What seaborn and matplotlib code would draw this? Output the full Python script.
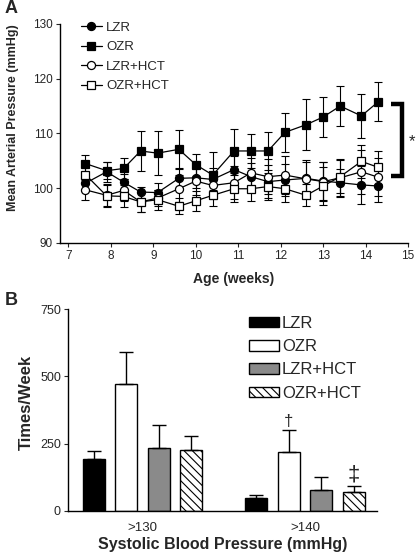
import pandas as pd
import matplotlib
matplotlib.use("Agg")
import matplotlib.pyplot as plt
from matplotlib.patches import Patch
import seaborn as sns

sns.set_theme(style="ticks")
plt.rcParams["font.family"] = ["Liberation Sans", "DejaVu Sans"]
plt.rcParams["hatch.linewidth"] = 0.8

# -------------------------------------------------------------
# Panel A data: mean arterial pressure (mmHg) vs age (weeks), mean +/- SE
weeks = [7.4, 7.9, 8.3, 8.7, 9.1, 9.6, 10.0, 10.4, 10.9, 11.3, 11.7, 12.1, 12.6, 13.0, 13.4, 13.9, 14.3]
lzr = [100.9, 103.0, 101.1, 99.3, 99.2, 101.8, 101.9, 101.6, 103.4, 102.1, 101.2, 101.5, 101.8, 101.3, 101.0, 100.6, 100.4]
ozr = [104.5, 103.2, 103.6, 106.8, 106.4, 107.1, 104.3, 102.4, 106.8, 106.8, 106.8, 110.2, 111.6, 113.0, 115.0, 113.2, 115.8]
lzr_hct = [99.7, 98.7, 99.6, 97.5, 98.2, 99.9, 101.3, 100.5, 101.0, 102.8, 102.1, 102.4, 101.7, 101.2, 101.9, 103.0, 102.0]
ozr_hct = [102.5, 98.6, 98.5, 97.5, 97.9, 96.7, 97.7, 98.7, 99.9, 99.9, 100.3, 99.9, 98.7, 100.4, 102.1, 104.9, 103.8]

lzr_se = [1.5, 1.8, 1.5, 1.0, 1.8, 1.8, 1.8, 2.0, 2.5, 2.5, 3.0, 3.0, 3.0, 3.5, 2.5, 3.5, 3.0]
ozr_se = [1.5, 1.6, 2.0, 3.7, 4.0, 3.6, 2.0, 4.2, 4.0, 3.1, 3.5, 3.6, 4.6, 3.6, 3.7, 4.0, 3.6]
lzr_hct_se = [1.8, 2.0, 2.0, 1.8, 1.5, 2.5, 2.5, 2.5, 3.0, 2.8, 3.2, 3.5, 3.5, 3.5, 3.5, 4.0, 3.5]
ozr_hct_se = [1.5, 2.0, 2.0, 1.8, 1.8, 1.5, 1.8, 2.0, 2.5, 2.3, 2.5, 2.5, 2.0, 3.5, 3.0, 3.0, 3.0]

# Panel B data: times/week above systolic threshold, mean +/- SE
groups = ["LZR", "OZR", "LZR+HCT", "OZR+HCT"]
thresholds = [">130", ">140"]
times_130 = [192, 470, 233, 226]
times_140 = [47, 218, 78, 69]
se_130 = [32, 121, 87, 52]
se_140 = [11, 83, 47, 23]

fig = plt.figure(figsize=(4.19, 5.56), dpi=100)

# -------------------------------------------------------------
# A. line plot
axA = fig.add_axes([0.143, 0.563, 0.831, 0.394])
series = [
    ("LZR", lzr, lzr_se, "o", "black"),
    ("OZR", ozr, ozr_se, "s", "black"),
    ("LZR+HCT", lzr_hct, lzr_hct_se, "o", "white"),
    ("OZR+HCT", ozr_hct, ozr_hct_se, "s", "white"),
]
for name, vals, se, mk, fc in series:
    axA.errorbar(weeks, vals, yerr=se, fmt="none", ecolor="black",
                 elinewidth=0.8, capsize=2.8, capthick=0.8, zorder=2)
for name, vals, se, mk, fc in series:
    sns.lineplot(x=weeks, y=vals, ax=axA, color="black", lw=0.9, marker=mk,
                 markersize=5.8, markerfacecolor=fc, markeredgecolor="black",
                 markeredgewidth=0.9, label=name, zorder=3)

axA.set_xlim(6.8, 15)
axA.set_ylim(90, 130)
axA.set_xticks(range(7, 16))
axA.set_yticks([90, 100, 110, 120, 130])
axA.set_xlabel("Age (weeks)", fontsize=10, fontweight="bold", labelpad=7)
axA.set_ylabel("Mean Arterial Pressure (mmHg)", fontsize=9, fontweight="bold")
axA.yaxis.set_label_coords(-0.118, 0.571)
axA.tick_params(labelsize=8.5, length=3, width=0.8, pad=2)
axA.legend(loc="upper left", frameon=False, fontsize=9.5, handlelength=1.6,
           handletextpad=0.3, labelspacing=0.55, borderaxespad=0.0,
           bbox_to_anchor=(0.045, 1.035))
# significance bracket
axA.plot([14.6, 14.86, 14.86, 14.6], [115.3, 115.3, 102.3, 102.3], color="black",
         lw=3.2, solid_joinstyle="miter", solid_capstyle="butt", clip_on=False)
axA.text(15.1, 108.5, "*", fontsize=12, ha="center", va="center", clip_on=False)
sns.despine(ax=axA)

# -------------------------------------------------------------
# B. bar chart
axB = fig.add_axes([0.162, 0.081, 0.737, 0.363])
bar_df = pd.DataFrame({
    "sbp": [thresholds[0]] * 4 + [thresholds[1]] * 4,
    "group": groups * 2,
    "times": times_130 + times_140,
})
err = {thresholds[0]: se_130, thresholds[1]: se_140}
palette = {"LZR": "black", "OZR": "white", "LZR+HCT": "#8a8a8a", "OZR+HCT": "white"}
sns.barplot(data=bar_df, x="sbp", y="times", hue="group", hue_order=groups,
            order=thresholds, palette=palette, edgecolor="black", linewidth=1.0,
            errorbar=None, gap=0.32, width=0.8, legend=False, ax=axB)

bar_conts = list(axB.containers)
for gi, cont in enumerate(bar_conts):
    for ti, bar in enumerate(cont.patches):
        if groups[gi] == "OZR+HCT":
            bar.set_hatch("\\\\\\\\")
        xc = bar.get_x() + bar.get_width() / 2
        h = bar.get_height()
        axB.errorbar([xc], [h], yerr=[[0], [err[thresholds[ti]][gi]]], fmt="none",
                     ecolor="black", elinewidth=1.0, capsize=5, capthick=1.0, zorder=1)

# significance marks
p_ozr = bar_conts[1].patches[1]
axB.text(p_ozr.get_x() + p_ozr.get_width() / 2, times_140[1] + se_140[1] + 4, "\u2020",
         ha="center", va="bottom", fontsize=12)
p_ozrh = bar_conts[3].patches[1]
axB.text(p_ozrh.get_x() + p_ozrh.get_width() / 2, times_140[3] + se_140[3] + 2, "\u2021",
         ha="center", va="bottom", fontsize=16)

axB.set_xlim(-0.46, 1.44)
axB.set_ylim(0, 750)
axB.set_yticks([0, 250, 500, 750])
axB.set_xlabel("Systolic Blood Pressure (mmHg)", fontsize=11.5, fontweight="bold", labelpad=2)
axB.set_ylabel("Times/Week", fontsize=12, fontweight="bold")
axB.yaxis.set_label_coords(-0.11, 0.54)
axB.tick_params(axis="y", labelsize=9, length=3, width=0.8, pad=2)
axB.tick_params(axis="x", labelsize=9.5, length=0, pad=8)

handles = [
    Patch(facecolor="black", edgecolor="black", label="LZR"),
    Patch(facecolor="white", edgecolor="black", label="OZR"),
    Patch(facecolor="#8a8a8a", edgecolor="black", label="LZR+HCT"),
    Patch(facecolor="white", edgecolor="black", hatch="\\\\\\\\", label="OZR+HCT"),
]
axB.legend(handles=handles, loc="upper right", frameon=False, fontsize=12,
           handlelength=1.8, handleheight=0.6, handletextpad=0.2,
           labelspacing=0.5, borderaxespad=0.0, bbox_to_anchor=(0.97, 1.0))
sns.despine(ax=axB)
for ax in (axA, axB):
    for s in ("left", "bottom"):
        ax.spines[s].set_linewidth(1.0)
        ax.spines[s].set_color("black")

fig.text(0.012, 0.984, "A", fontsize=13, fontweight="bold", va="center")
fig.text(0.012, 0.459, "B", fontsize=13, fontweight="bold", va="center")

fig.savefig("out.png", dpi=100, facecolor="white")
